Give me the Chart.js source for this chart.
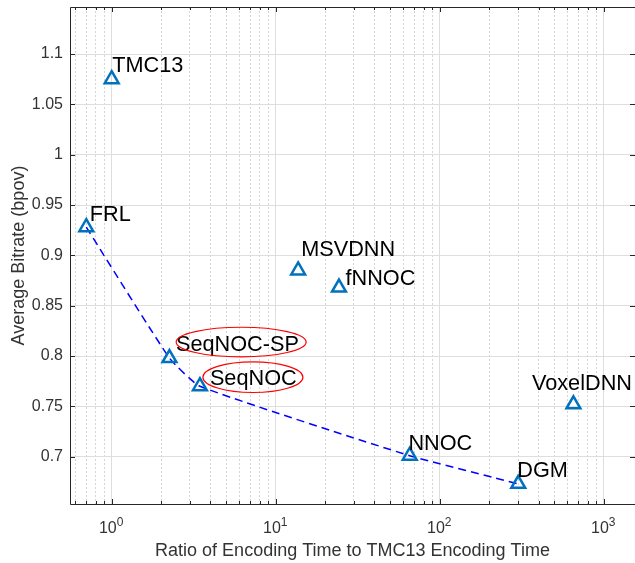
<!DOCTYPE html>
<html>
<head>
<meta charset="utf-8">
<title>Bitrate vs encoding time</title>
<script src="https://cdn.jsdelivr.net/npm/chart.js@4/dist/chart.umd.min.js"></script>
<style>
  html, body { margin: 0; padding: 0; background: #fff; }
</style>
</head>
<body>
<canvas id="tradeChart" width="635" height="563"></canvas>
<script>
// DATA
const methods   = ['TMC13', 'FRL', 'MSVDNN', 'fNNOC', 'SeqNOC-SP', 'SeqNOC', 'NNOC', 'DGM', 'VoxelDNN'];
const timeRatio = [1.0, 0.70, 13.7, 24.3, 2.25, 3.45, 65.6, 301, 653];
const bitrate   = [1.075, 0.928, 0.885, 0.868, 0.798, 0.770, 0.701, 0.673, 0.752];
// methods joined by the dashed curve
const frontier  = ['FRL', 'SeqNOC-SP', 'SeqNOC', 'NNOC', 'DGM'];

// AXES
const xDecades    = [0.1, 1, 10, 100, 1000];
const xMultiples  = [1, 2, 3, 4, 5, 6, 7, 8, 9];
const xLabelled   = [1, 10, 100, 1000];
const xExponents  = ['0', '1', '2', '3'];
const yTicks      = [0.7, 0.75, 0.8, 0.85, 0.9, 0.95, 1, 1.05, 1.1];
const xMin = 0.557, xMax = 1550;
const yMin = 0.653, yMax = 1.1467;

// LABEL PLACEMENT (pixel offsets from the marker)
const labelOffset = {
  'TMC13': [0.5, -6.7], 'FRL': [3.5, -6], 'MSVDNN': [3, -14.5], 'fNNOC': [6.5, -3],
  'SeqNOC-SP': [6.5, -7.5], 'SeqNOC': [10, -1.5], 'NNOC': [-1.3, -5.6],
  'DGM': [-1, -7.2], 'VoxelDNN': [-41.5, -14.8]
};
// red rings: centre offset x, centre offset y, radius x, radius y
const ringStyle = {
  'SeqNOC-SP': [71.7, -16, 65, 14.8],
  'SeqNOC': [53, -9, 50, 15.3]
};

const family = '"Liberation Sans", Arial, Helvetica, sans-serif';
const axisInk = '#262626';
const labelInk = '#333333';
Chart.defaults.font.family = family;

let xGrid = [];
xDecades.forEach(d => xMultiples.forEach(m => {
  let v = d * m;
  if (v >= xMin && v <= xMax) xGrid.push(v);
}));
const isDecade = v => xLabelled.includes(v);

let points = methods.map((m, i) => ({ x: timeRatio[i], y: bitrate[i] }));
let curve = frontier.map(name => {
  let i = methods.indexOf(name);
  return { x: timeRatio[i], y: bitrate[i] };
});

// PLUGINS
const frameTicks = {
  id: 'frameTicks',
  afterDraw(chart) {
    const { ctx, chartArea: a, scales: { x, y } } = chart;
    ctx.save();
    ctx.strokeStyle = axisInk;
    ctx.lineWidth = 1;
    ctx.beginPath();
    ctx.rect(a.left + 0.5, a.top + 0.5, a.right - a.left, a.bottom - a.top);
    yTicks.forEach(v => {
      let py = Math.round(y.getPixelForValue(v)) + 0.5;
      ctx.moveTo(a.left, py); ctx.lineTo(a.left + 5, py);
      ctx.moveTo(a.right, py); ctx.lineTo(a.right - 5, py);
    });
    xGrid.forEach(v => {
      let px = Math.round(x.getPixelForValue(v)) + 0.5;
      let len = isDecade(v) ? 5 : 3;
      ctx.moveTo(px, a.bottom + 0.5); ctx.lineTo(px, a.bottom - len);
      ctx.moveTo(px, a.top); ctx.lineTo(px, a.top + len);
    });
    ctx.stroke();

    // 10^n labels
    ctx.fillStyle = labelInk;
    ctx.textAlign = 'left';
    ctx.textBaseline = 'alphabetic';
    xLabelled.forEach((d, i) => {
      let px = x.getPixelForValue(d);
      ctx.font = '16px ' + family;
      let wBase = ctx.measureText('10').width;
      ctx.font = '12px ' + family;
      let wExp = ctx.measureText(xExponents[i]).width;
      let left = px - (wBase + wExp) / 2 - 0.5;
      ctx.font = '16px ' + family;
      ctx.fillText('10', left, a.bottom + 29);
      ctx.font = '12px ' + family;
      ctx.fillText(xExponents[i], left + wBase, a.bottom + 21.5);
    });
    ctx.restore();
  }
};

const methodLabels = {
  id: 'methodLabels',
  afterDatasetsDraw(chart) {
    const ctx = chart.ctx;
    const meta = chart.getDatasetMeta(0);
    ctx.save();
    ctx.font = '21.7px ' + family;
    ctx.fillStyle = '#000';
    ctx.textAlign = 'left';
    ctx.textBaseline = 'alphabetic';
    meta.data.forEach((pt, i) => {
      let name = methods[i];
      let off = labelOffset[name];
      ctx.fillText(name, pt.x + off[0], pt.y + off[1]);
      let ring = ringStyle[name];
      if (ring) {
        ctx.beginPath();
        ctx.strokeStyle = '#ff0000';
        ctx.lineWidth = 1.2;
        ctx.ellipse(pt.x + ring[0], pt.y + ring[1], ring[2], ring[3], 0, 0, Math.PI * 2);
        ctx.stroke();
      }
    });
    ctx.restore();
  }
};

// CHART
let tradeChart = new Chart(document.getElementById('tradeChart').getContext('2d'), {
  type: 'scatter',
  data: {
    datasets: [{
      label: 'methods',
      data: points,
      pointStyle: 'triangle',
      pointRadius: 8,
      pointHoverRadius: 8,
      pointBorderWidth: 2.5,
      pointBorderColor: '#0072BD',
      pointBackgroundColor: 'rgba(0,0,0,0)'
    }, {
      label: 'frontier',
      data: curve,
      showLine: true,
      borderColor: '#0000ff',
      borderWidth: 1.5,
      borderDash: [8, 5],
      pointRadius: 0,
      tension: 0.15,
      fill: false
    }]
  },
  options: {
    responsive: false,
    animation: false,
    devicePixelRatio: 1,
    layout: { autoPadding: false, padding: { top: 7, right: 0, bottom: 0, left: 0 } },
    plugins: { legend: { display: false }, tooltip: { enabled: false } },
    scales: {
      x: {
        type: 'logarithmic',
        min: xMin,
        max: xMax,
        afterBuildTicks: s => { s.ticks = xGrid.map(v => ({ value: v, major: isDecade(v) })); },
        afterFit: s => { s.height = 59; s.paddingLeft = 0; s.paddingRight = 0; },
        ticks: { display: false, autoSkip: false },
        grid: {
          drawTicks: false,
          lineWidth: 1,
          color: c => (c.tick && !isDecade(c.tick.value)) ? '#d4d4d4' : '#dedede'
        },
        border: {
          display: false,
          dash: c => (c.tick && !isDecade(c.tick.value)) ? [2, 2] : []
        },
        title: {
          display: true,
          text: 'Ratio of Encoding Time to TMC13 Encoding Time',
          color: labelInk,
          font: { size: 18 },
          padding: { top: 0, bottom: 1 }
        }
      },
      y: {
        min: yMin,
        max: yMax,
        afterBuildTicks: s => { s.ticks = yTicks.map(v => ({ value: v })); },
        afterFit: s => { s.width = 70; s.paddingTop = 0; s.paddingBottom = 0; },
        ticks: {
          autoSkip: false,
          padding: 7,
          color: labelInk,
          font: { size: 16 },
          callback: v => String(v)
        },
        grid: { drawTicks: false, lineWidth: 1, color: '#dedede' },
        border: { display: false },
        title: {
          display: true,
          text: 'Average Bitrate (bpov)',
          color: labelInk,
          font: { size: 18 },
          padding: { top: 8, bottom: 0 }
        }
      }
    }
  },
  plugins: [methodLabels, frameTicks]
});
</script>
</body>
</html>
